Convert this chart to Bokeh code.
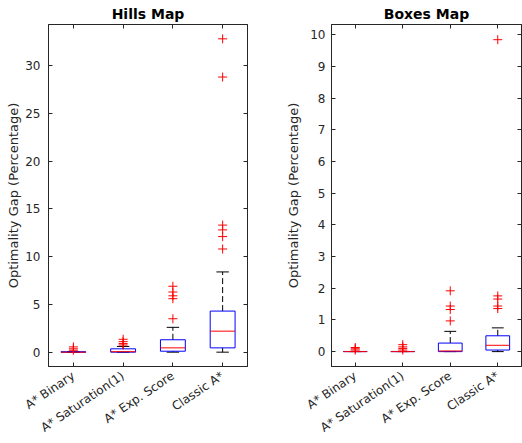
import math
from bokeh.plotting import figure
from bokeh.models import Range1d, LinearAxis, FixedTicker
from bokeh.layouts import row
from bokeh.embed import file_html
from bokeh.resources import INLINE

categories = ["A* Binary", "A* Saturation(1)", "A* Exp. Score", "Classic A*"]

# Hills Map box statistics
hills_q1 = [0.0, 0.0, 0.1, 0.45]
hills_median = [0.0, 0.05, 0.45, 2.2]
hills_q3 = [0.04, 0.35, 1.3, 4.3]
hills_whisker_low = [0.0, 0.0, 0.0, 0.0]
hills_whisker_high = [0.04, 0.6, 2.6, 8.4]
hills_outliers = [
    [0.2, 0.35, 0.55],
    [0.75, 0.9, 1.1, 1.35],
    [3.5, 5.6, 5.9, 6.3, 6.9],
    [10.8, 12.1, 12.8, 13.3, 28.8, 32.8],
]
hills_ticks = [0, 5, 10, 15, 20, 25, 30]

# Boxes Map box statistics
boxes_q1 = [0.0, 0.0, 0.0, 0.05]
boxes_median = [0.0, 0.0, 0.02, 0.2]
boxes_q3 = [0.005, 0.005, 0.27, 0.5]
boxes_whisker_low = [0.0, 0.0, 0.0, 0.0]
boxes_whisker_high = [0.005, 0.005, 0.64, 0.75]
boxes_outliers = [
    [0.05, 0.09, 0.13],
    [0.05, 0.1, 0.15, 0.22],
    [0.97, 1.33, 1.44, 1.92],
    [1.36, 1.44, 1.66, 1.76, 9.85],
]
boxes_ticks = [0, 1, 2, 3, 4, 5, 6, 7, 8, 9, 10]

AX = "#262626"
FONT = "DejaVu Sans"


def make_panel(title, q1, med, q3, wlo, whi, outs, yr, yticks, width,
               mb_left, mb_right, tick_standoff, label_standoff):
    pos = [i + 1 for i in range(len(categories))]
    p = figure(width=width, height=443, x_range=Range1d(0.5, 4.5),
               y_range=Range1d(*yr), output_backend="svg",
               toolbar_location=None, title=title,
               min_border_left=mb_left, min_border_right=mb_right,
               min_border_top=24, min_border_bottom=77)
    p.background_fill_color = "white"
    p.border_fill_color = "white"
    p.outline_line_color = AX
    p.xgrid.grid_line_color = None
    p.ygrid.grid_line_color = None
    p.title.text_font = FONT
    p.title.text_font_size = "14px"
    p.title.text_font_style = "bold"
    p.title.text_color = "black"
    p.title.align = "center"
    p.title.standoff = 5

    hw = 0.25
    cw = 0.125
    # whiskers (dashed)
    p.segment(x0=pos, x1=pos, y0=q3, y1=whi, line_color="black",
              line_dash="6 3", line_width=1)
    p.segment(x0=pos, x1=pos, y0=q1, y1=wlo, line_color="black",
              line_dash="6 3", line_width=1)
    # caps
    p.segment(x0=[x - cw for x in pos], x1=[x + cw for x in pos], y0=whi,
              y1=whi, line_color="black", line_width=1)
    p.segment(x0=[x - cw for x in pos], x1=[x + cw for x in pos], y0=wlo,
              y1=wlo, line_color="black", line_width=1)
    # boxes
    p.vbar(x=pos, width=2 * hw, bottom=q1, top=q3, fill_color=None,
           line_color="blue", line_width=1)
    # medians
    p.segment(x0=[x - hw for x in pos], x1=[x + hw for x in pos], y0=med,
              y1=med, line_color="red", line_width=1)
    # outliers
    ox = [pos[i] for i, o in enumerate(outs) for _ in o]
    oy = [v for o in outs for v in o]
    p.scatter(ox, oy, marker="cross", size=9, line_color="red",
              line_width=1)

    # axes
    xa = p.xaxis[0]
    xa.ticker = FixedTicker(ticks=pos)
    xa.major_label_overrides = {x: c for x, c in zip(pos, categories)}
    xa.major_label_orientation = math.radians(34)
    ya = p.yaxis[0]
    ya.ticker = FixedTicker(ticks=yticks)
    ya.axis_label = "Optimality Gap (Percentage)"
    ya.axis_label_text_font = FONT
    ya.axis_label_text_font_size = "13px"
    ya.axis_label_text_font_style = "normal"
    ya.axis_label_text_color = AX
    ya.axis_label_standoff = label_standoff
    ya.major_label_standoff = tick_standoff
    xa.major_label_standoff = 8
    for a in (xa, ya):
        a.major_label_text_font = FONT
        a.major_label_text_font_size = "12px"
        a.major_label_text_color = AX
        a.major_tick_in = 4
        a.major_tick_out = 0
        a.minor_tick_line_color = None
        a.axis_line_color = AX
        a.major_tick_line_color = AX

    ra = LinearAxis(ticker=FixedTicker(ticks=yticks),
                    major_label_text_font_size="0px",
                    major_label_text_color=None,
                    major_label_standoff=0, major_tick_in=4,
                    major_tick_out=0, minor_tick_line_color=None,
                    axis_line_color=AX, major_tick_line_color=AX)
    p.add_layout(ra, "right")
    ta = LinearAxis(ticker=FixedTicker(ticks=pos),
                    major_label_text_font_size="0px",
                    major_label_text_color=None,
                    major_label_standoff=0, major_tick_in=4,
                    major_tick_out=0, minor_tick_line_color=None,
                    axis_line_color=AX, major_tick_line_color=AX)
    p.add_layout(ta, "above")
    return p


p1 = make_panel("Hills Map", hills_q1, hills_median, hills_q3,
                hills_whisker_low, hills_whisker_high, hills_outliers,
                (-1.5, 34.3), hills_ticks, 262, 48, 15, 8, 1)
p2 = make_panel("Boxes Map", boxes_q1, boxes_median, boxes_q3,
                boxes_whisker_low, boxes_whisker_high, boxes_outliers,
                (-0.47, 10.33), boxes_ticks, 260, 69, 1, 6, 6)

layout = row(p1, p2)
open("out.html", "w").write(file_html(layout, INLINE))
